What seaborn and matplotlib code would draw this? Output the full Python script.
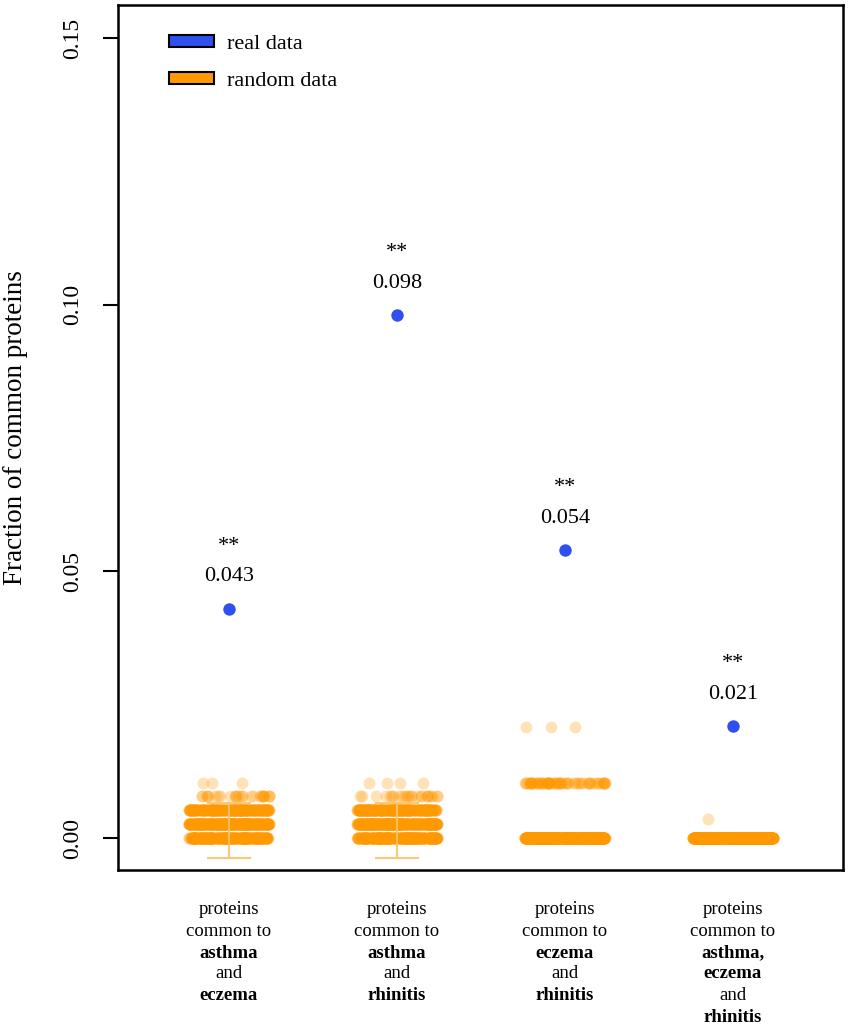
import numpy as np
import pandas as pd
import seaborn as sns
import matplotlib.pyplot as plt
from matplotlib.patches import Patch

# comparisons along the x axis
groups = ["ae", "ar", "er", "aer"]
label_lines = [
    [("proteins", "normal"), ("common to", "normal"), ("asthma", "bold"), ("and", "normal"), ("eczema", "bold")],
    [("proteins", "normal"), ("common to", "normal"), ("asthma", "bold"), ("and", "normal"), ("rhinitis", "bold")],
    [("proteins", "normal"), ("common to", "normal"), ("eczema", "bold"), ("and", "normal"), ("rhinitis", "bold")],
    [("proteins", "normal"), ("common to", "normal"), ("asthma,", "bold"), ("eczema", "bold"), ("and", "normal"), ("rhinitis", "bold")],
]

# observed fractions (real data)
real_values = [0.043, 0.098, 0.054, 0.021]
real_labels = ["0.043", "0.098", "0.054", "0.021"]

# random data: discrete fraction levels and how many runs hit each level
random_levels = {
    "ae": [0.0, 0.0026, 0.0052, 0.0078, 0.0104],
    "ar": [0.0, 0.0026, 0.0052, 0.0078, 0.0104],
    "er": [0.0, 0.0104, 0.0208],
    "aer": [0.0, 0.0035],
}
random_counts = {
    "ae": [300, 360, 230, 26, 3],
    "ar": [310, 350, 240, 24, 4],
    "er": [600, 60, 3],
    "aer": [700, 1],
}

# interval bars drawn over the random data
err_low = [-0.0037, -0.0037, np.nan, np.nan]
err_high = [0.0066, 0.0066, np.nan, np.nan]

ORANGE = "#FF9900"
BLUE = "#2F4FEF"

rows = []
for g in groups:
    for lvl, n in zip(random_levels[g], random_counts[g]):
        rows += [(g, lvl)] * n
random_df = pd.DataFrame(rows, columns=["group", "fraction"])
real_df = pd.DataFrame({"group": groups, "fraction": real_values})

sns.set_theme(style="white")
plt.rcParams["font.family"] = ["Liberation Serif", "DejaVu Serif"]
plt.rcParams["text.color"] = "black"
plt.rcParams["axes.labelcolor"] = "black"
plt.rcParams["ytick.color"] = "black"
plt.rcParams["xtick.color"] = "black"

fig = plt.figure(figsize=(8.5, 10.29), dpi=100)
ax = fig.add_axes([118 / 850, 1 - 870 / 1029, 725 / 850, 865 / 1029])

np.random.seed(3)
sns.stripplot(
    data=random_df, x="group", y="fraction", order=groups,
    color=ORANGE, alpha=0.28, size=8.6, jitter=0.24, linewidth=0, ax=ax,
)

# interval bars
centers = np.arange(len(groups))
mid = (np.array(err_low) + np.array(err_high)) / 2
half = (np.array(err_high) - np.array(err_low)) / 2
ax.errorbar(centers, mid, yerr=half, fmt="none", ecolor="#F7C56A",
            elinewidth=1.5, capsize=16, capthick=1.5, alpha=0.9, zorder=3)

sns.scatterplot(data=real_df, x="group", y="fraction", color=BLUE,
                s=80, linewidth=0, ax=ax, zorder=5, legend=False)

for i, (v, lab) in enumerate(zip(real_values, real_labels)):
    ax.annotate(lab, (i, v), xytext=(0, 23), textcoords="offset points",
                ha="center", va="center", fontsize=16)
    ax.annotate("**", (i, v), xytext=(0, 45), textcoords="offset points",
                ha="center", va="center", fontsize=16)

ax.set_xlim(-0.66, 3.655)
ax.set_ylim(-0.006, 0.1562)
ax.set_yticks([0.0, 0.05, 0.10, 0.15])
ax.set_yticklabels(["0.00", "0.05", "0.10", "0.15"], rotation=90, va="center")
ax.tick_params(axis="y", which="major", direction="out", length=11, width=1.5,
               pad=14, labelsize=17, left=True)
ax.set_xticks(centers)
ax.set_xticklabels([""] * len(groups))
ax.tick_params(axis="x", length=0)
ax.set_xlabel("")
ax.set_ylabel("Fraction of common proteins", fontsize=19.5)
ax.yaxis.set_label_coords(-0.124, 0.512)

for sp in ax.spines.values():
    sp.set_color("black")
    sp.set_linewidth(1.8)

# multi-line category labels below the axis
line_px = [39, 62, 83, 104, 125, 147]
for i, lines in enumerate(label_lines):
    for k, (txt, weight) in enumerate(lines):
        ax.annotate(txt, (i, 0), xycoords=("data", "axes fraction"),
                    xytext=(0, -line_px[k] * 0.72), textcoords="offset points",
                    ha="center", va="center", fontsize=13.5, fontweight=weight)

handles = [
    Patch(facecolor=BLUE, edgecolor="black", linewidth=1.5, label="real data"),
    Patch(facecolor=ORANGE, edgecolor="black", linewidth=1.5, label="random data"),
]
ax.legend(handles=handles, loc="upper left", bbox_to_anchor=(0.043, 0.988),
          frameon=False, fontsize=16, handlelength=2.0, handleheight=0.45,
          labelspacing=0.8, handletextpad=0.6)

fig.savefig("out.png", dpi=100)
